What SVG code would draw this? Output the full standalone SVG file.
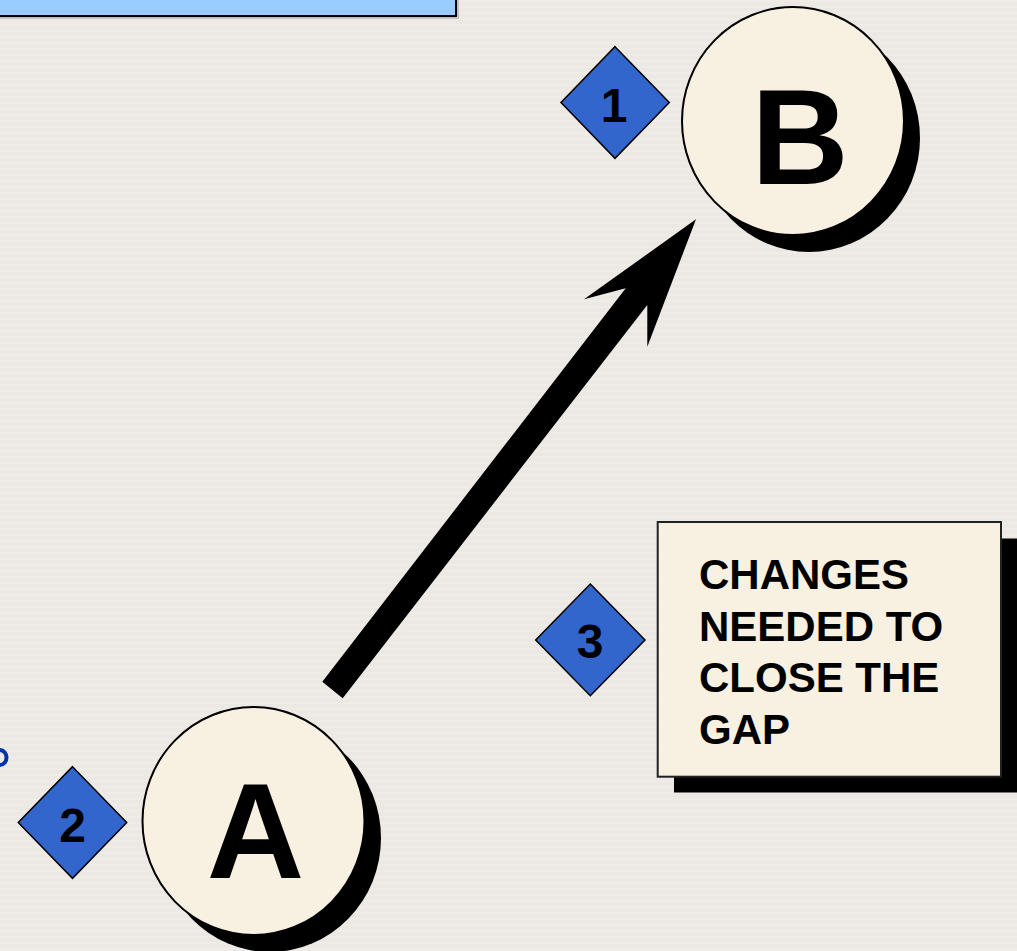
<svg xmlns="http://www.w3.org/2000/svg" width="1017" height="951" viewBox="0 0 1017 951">
  <defs>
    <pattern id="stripes" width="8" height="6" patternUnits="userSpaceOnUse">
      <rect width="8" height="6" fill="#ECE9E4"/>
      <rect y="0" width="8" height="2" fill="#EFECE8"/>
    </pattern>
  </defs>
  <style>
    .shadow { fill: #000000; }
    .circle { fill: #F8F0E1; stroke: #000000; stroke-width: 2; }
    .diamond { fill: #3366CC; stroke: #000000; stroke-width: 1.5; }
    .big { font-family: "Liberation Sans", Arial, sans-serif; font-weight: bold; font-size: 135px; fill: #000000; text-anchor: middle; }
    .num { font-family: "Liberation Sans", Arial, sans-serif; font-weight: bold; font-size: 48px; fill: #000000; text-anchor: middle; }
    .label { font-family: "Liberation Sans", Arial, sans-serif; font-weight: bold; font-size: 42px; fill: #000000; }
  </style>
  <rect width="1017" height="951" fill="url(#stripes)"/>

  <g id="top-box">
    <rect x="-4" y="-4" width="463" height="23" fill="#999999" opacity="0.5"/>
    <rect x="-4" y="-4" width="460" height="20" fill="#99CCFF" stroke="#000000" stroke-width="2"/>
  </g>

  <g id="fragment">
    <ellipse cx="0" cy="757.5" rx="6.5" ry="7.5" fill="none" stroke="#0033AA" stroke-width="4"/>
  </g>

  <g id="connectors">
    <polygon points="322.3,681.7 625.7,288.3 584,299.3 696,219.3 647.3,346.7 647.3,305 342.7,698.3" fill="#000000"/>
  </g>

  <g id="node-B">
    <ellipse class="shadow" cx="809" cy="138" rx="111" ry="114"/>
    <ellipse class="circle" cx="793" cy="121" rx="111" ry="114"/>
    <text class="big" x="800" y="184">B</text>
  </g>

  <g id="node-A">
    <ellipse class="shadow" cx="270" cy="838" rx="111" ry="114"/>
    <ellipse class="circle" cx="253.5" cy="821" rx="111" ry="114"/>
    <text class="big" x="255.5" y="878">A</text>
  </g>

  <g id="marker-1">
    <polygon class="diamond" points="615,46.7 669.3,102.5 615,158.3 561,102.5"/>
    <text class="num" x="614" y="122">1</text>
  </g>

  <g id="marker-2">
    <polygon class="diamond" points="72.5,766.7 126.7,822.5 72.5,878.3 18.3,822.5"/>
    <text class="num" x="72.5" y="842">2</text>
  </g>

  <g id="marker-3">
    <polygon class="diamond" points="590.3,584 645,640 590.3,695.7 535.7,640"/>
    <text class="num" x="590" y="658">3</text>
  </g>

  <g id="gap-box">
    <rect class="shadow" x="674" y="538.5" width="350" height="254"/>
    <rect x="657.7" y="522" width="343.3" height="254.7" fill="#F8F0E1" stroke="#222222" stroke-width="2"/>
    <text class="label" x="699" y="589">CHANGES</text>
    <text class="label" x="699" y="640.5">NEEDED TO</text>
    <text class="label" x="699" y="692">CLOSE THE</text>
    <text class="label" x="699" y="743.5">GAP</text>
  </g>
</svg>
